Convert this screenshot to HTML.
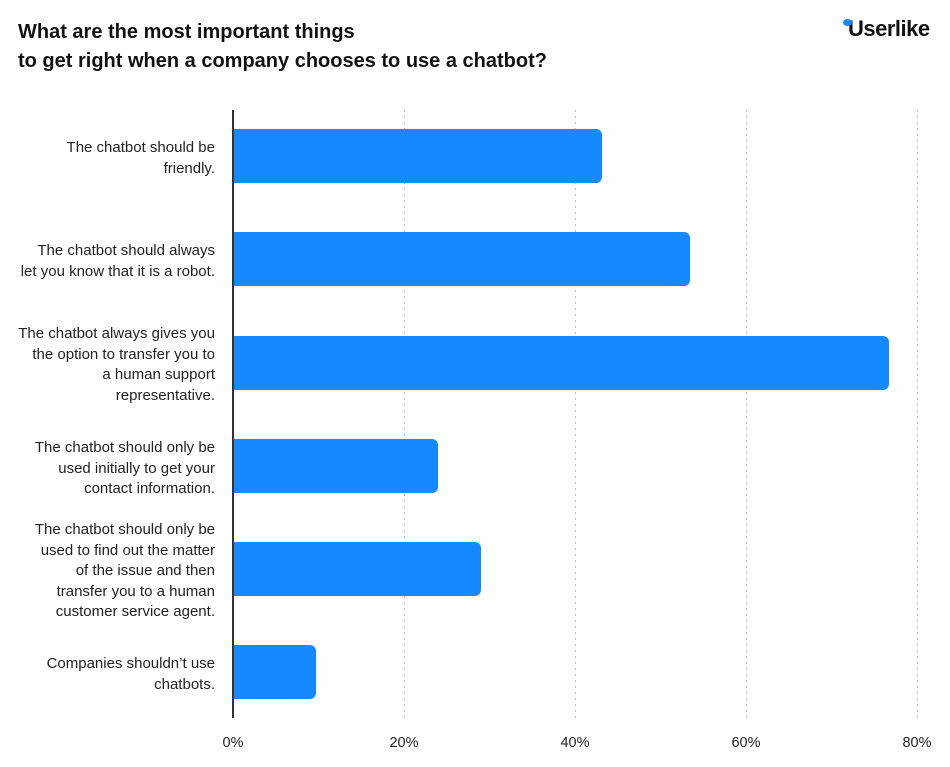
<!DOCTYPE html><html><head><style>
body{margin:0;width:950px;height:767px;background:#fff;font-family:"Liberation Sans",sans-serif;position:relative;overflow:hidden;color:#111}
.t{position:absolute;left:18px;top:18px;font-size:20px;font-weight:bold;line-height:29px;color:#111}
.lab{position:absolute;right:735px;text-align:right;font-size:15px;line-height:20.5px;color:#222;width:230px}
.bar{position:absolute;left:234px;height:54px;background:#1589FF;border-radius:0 6px 6px 0}
.g{position:absolute;top:110px;height:608px;width:1px;background-image:linear-gradient(#bbb 35%,transparent 35%);background-size:1px 6px}
.tk{position:absolute;top:735px;font-size:14.5px;color:#222;transform:translateX(-50%)}
</style></head><body>
<div class="t">What are the most important things<br>to get right when a company chooses to use a chatbot?</div>
<div style="position:absolute;left:848px;top:16px;font-size:22px;font-weight:bold;color:#111;letter-spacing:-0.5px">Userlike</div>
<div style="position:absolute;left:843px;top:19px;width:9px;height:7px;background:#1589FF;border-radius:50%"></div>
<div class="g" style="left:404px"></div><div class="g" style="left:575px"></div><div class="g" style="left:746px"></div><div class="g" style="left:917px"></div>
<div style="position:absolute;left:232px;top:110px;width:1.5px;height:608px;background:#333"></div>
<div class="bar" style="top:129px;width:368px"></div>
<div class="bar" style="top:232px;width:456px"></div>
<div class="bar" style="top:336px;width:655px"></div>
<div class="bar" style="top:439px;width:204px"></div>
<div class="bar" style="top:542px;width:247px"></div>
<div class="bar" style="top:645px;width:82px"></div>
<div class="lab" style="top:138px">The chatbot should be<br>friendly.</div>
<div class="lab" style="top:241px">The chatbot should always<br>let you know that it is a robot.</div>
<div class="lab" style="top:324px">The chatbot always gives you<br>the option to transfer you to<br>a human support<br>representative.</div>
<div class="lab" style="top:438px">The chatbot should only be<br>used initially to get your<br>contact information.</div>
<div class="lab" style="top:520px">The chatbot should only be<br>used to find out the matter<br>of the issue and then<br>transfer you to a human<br>customer service agent.</div>
<div class="lab" style="top:654px">Companies shouldn’t use<br>chatbots.</div>
<div class="tk" style="left:233px">0%</div><div class="tk" style="left:404px">20%</div><div class="tk" style="left:575px">40%</div><div class="tk" style="left:746px">60%</div><div class="tk" style="left:917px">80%</div>
</body></html>
